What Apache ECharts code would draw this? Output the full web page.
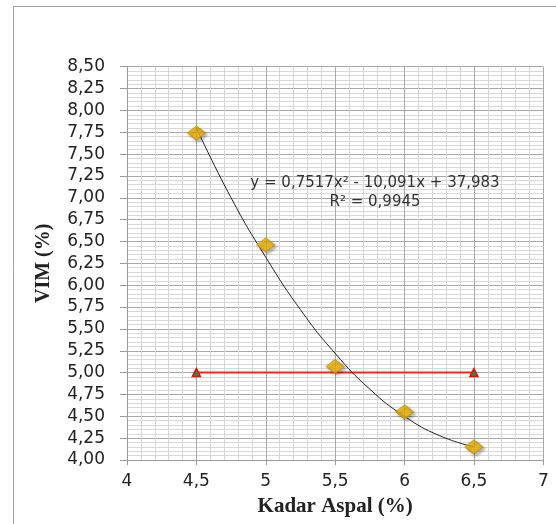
<!DOCTYPE html>
<html>
<head>
<meta charset="utf-8">
<script src="https://cdn.jsdelivr.net/npm/echarts@6/dist/echarts.min.js"></script>
<style>html,body{margin:0;padding:0;background:#fff;}#c{width:556px;height:524px;}</style>
</head>
<body>
<div id="c"></div>
<script>
// Data
var vimX = [4.5, 5, 5.5, 6, 6.5];
var vimY = [7.74, 6.46, 5.07, 4.55, 4.15];
var trendX = [4.5, 4.75, 5, 5.25, 5.5, 5.75, 6, 6.25, 6.5];
var trendY = [7.80, 7.00, 6.32, 5.72, 5.22, 4.81, 4.50, 4.28, 4.15];
var limitX = [4.5, 6.5];
var limitY = [5.0, 5.0];
var equationText = 'y = 0,7517x² - 10,091x + 37,983';
var r2Text = 'R² = 0,9945';
var xTitle = 'Kadar Aspal (%)';
var yTitle = 'VIM (%)';

function pairs(xs, ys){ return xs.map(function(x,i){ return [x, ys[i]]; }); }
function comma(v, d){ return v.toFixed(d).replace('.', ','); }

var chart = echarts.init(document.getElementById('c'), null, {renderer:'canvas'});
chart.setOption({
  animation: false,
  backgroundColor: '#ffffff',
  grid: {left:127, top:66.7, right:12.7, bottom:64, containLabel:false},
  xAxis: {
    type:'value', min:4, max:7, interval:0.5,
    name: xTitle, nameLocation:'middle', nameGap:36,
    nameTextStyle:{fontFamily:'Liberation Serif', fontWeight:'bold', fontSize:21, color:'#222'},
    axisLine:{show:true, lineStyle:{color:'#9a9a9a', width:1}},
    axisTick:{show:true, length:5, lineStyle:{color:'#9a9a9a'}},
    axisLabel:{margin:13, fontFamily:'DejaVu Sans', fontSize:17, color:'#222',
      formatter:function(v){ return Number.isInteger(v) ? String(v) : comma(v,1); }},
    splitLine:{show:true, lineStyle:{color:'#a8a8a8', width:1}},
    minorTick:{show:false, splitNumber:5},
    minorSplitLine:{show:true, lineStyle:{color:'#d6d6d6', width:1}}
  },
  yAxis: {
    type:'value', min:4, max:8.5, interval:0.25,
    name: yTitle, nameLocation:'middle', nameGap:73, nameRotate:90,
    nameTextStyle:{fontFamily:'Liberation Serif', fontWeight:'bold', fontSize:20, color:'#222'},
    axisLine:{show:true, lineStyle:{color:'#9a9a9a', width:1}},
    axisTick:{show:true, length:7, lineStyle:{color:'#9a9a9a'}},
    axisLabel:{margin:22, fontFamily:'DejaVu Sans', fontSize:17, color:'#222',
      formatter:function(v){ return comma(v,2); }},
    splitLine:{show:true, lineStyle:{color:'#a8a8a8', width:1}},
    minorTick:{show:false, splitNumber:5},
    minorSplitLine:{show:true, lineStyle:{color:'#d8d8d8', width:1}}
  },
  series: [
    {
      type:'line', data: pairs(limitX, limitY),
      symbol:'triangle', symbolSize:8,
      lineStyle:{color:'#ff2020', width:2},
      itemStyle:{color:'#00a050', borderColor:'#ff0000', borderWidth:1.5},
      z:3
    },
    {
      type:'line', data: pairs(trendX, trendY), smooth:0.5,
      showSymbol:false, symbol:'none',
      lineStyle:{color:'#222', width:1},
      z:4
    },
    {
      type:'scatter', data: pairs(vimX, vimY),
      symbol:'diamond', symbolSize:[18,14],
      itemStyle:{color:'#f0b400', borderColor:'#c88f00', borderWidth:1,
        shadowColor:'rgba(0,0,0,0.35)', shadowBlur:3, shadowOffsetX:2, shadowOffsetY:2},
      z:5
    }
  ],
  graphic: [
    {type:'rect', left:11, top:4, z:-10, silent:true,
     shape:{width:560, height:540}, style:{fill:'none', stroke:'#a0a0a0', lineWidth:1}},
    {type:'text', z:10, silent:true,
     style:{text:equationText, x:375, y:183, align:'center', verticalAlign:'middle',
       font:'15px "DejaVu Sans"', fill:'#333'}},
    {type:'text', z:10, silent:true,
     style:{text:r2Text, x:375, y:202, align:'center', verticalAlign:'middle',
       font:'15px "DejaVu Sans"', fill:'#333'}}
  ]
});
</script>
</body>
</html>
